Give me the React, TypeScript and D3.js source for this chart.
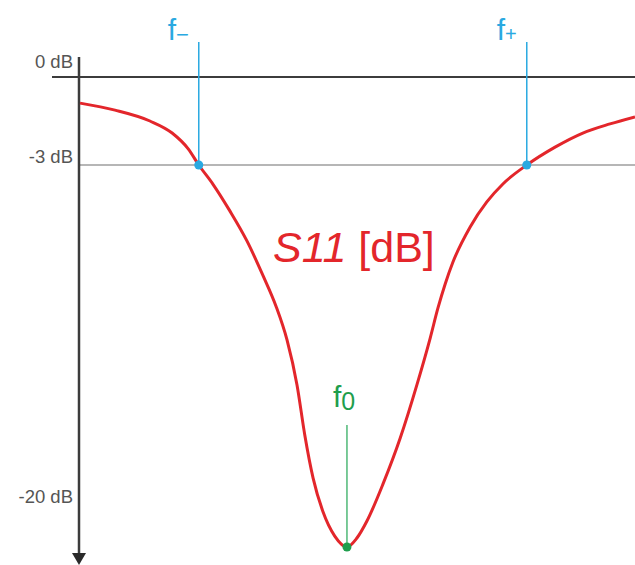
import React from "react";
import * as d3 from "d3";

// Frequency (GHz, schematic) and S11 (dB)
const freqs = [
  2.0, 2.063, 2.126, 2.166, 2.195, 2.214, 2.24, 2.27, 2.301, 2.33, 2.353, 2.373, 2.391,
  2.405, 2.42, 2.438, 2.459, 2.481, 2.499, 2.517, 2.546, 2.577, 2.607, 2.631, 2.645, 2.658,
  2.672, 2.703, 2.733, 2.762, 2.805, 2.856, 2.906, 2.955, 3.0,
];
const s11 = [
  -0.89, -1.13, -1.5, -1.91, -2.45, -3.0, -4.0, -5.35, -6.9, -8.68, -10.22, -11.96, -14.26,
  -16.82, -19.03, -20.77, -22.0, -22.56, -22.1, -21.23, -19.33, -16.98, -14.26, -11.86,
  -10.32, -9.09, -7.97, -6.17, -4.89, -3.97, -3.0, -2.39, -1.91, -1.6, -1.36,
];
const tickValues = [0, -3, -20];
const tickLabels = ["0 dB", "-3 dB", "-20 dB"];
const markerNames = ["f-", "f0", "f+"];
const markerFreqs = [2.214, 2.481, 2.805];
const markerDb = [-3, -22.56, -3];

const W = 635;
const H = 565;

export default function App() {
  const x = d3.scaleLinear().domain([2.0, 3.0]).range([80, 635]);
  const y = d3.scaleLinear().domain([0, -3, -20]).range([77, 165, 497]);
  const axisX = 79;

  const data = freqs.map((f, i) => ({ f, v: s11[i] }));
  const line = d3
    .line<{ f: number; v: number }>()
    .x((d) => x(d.f))
    .y((d) => y(d.v))
    .curve(d3.curveMonotoneX);

  const blue = "#29a9e1";
  const green = "#1f9e4d";
  const red = "#e3262b";
  const font = "'Liberation Sans', Arial, sans-serif";

  const labelDy = [-9, -2, 6];

  return (
    <svg
      width={W}
      height={H}
      style={{ position: "absolute", left: 0, top: 0, background: "#fff" }}
      fontFamily={font}
    >
      {/* 0 dB line */}
      <line x1={52} x2={W} y1={y(0)} y2={y(0)} stroke="#3c3c3c" strokeWidth={2} />
      {/* -3 dB line */}
      <line x1={axisX} x2={W} y1={y(-3)} y2={y(-3)} stroke="#6e6e6e" strokeWidth={1.2} />
      {/* vertical axis */}
      <line x1={axisX} x2={axisX} y1={57} y2={556} stroke="#3c3c3c" strokeWidth={2.5} />
      <polygon
        points={`${axisX - 7},553 ${axisX + 7},553 ${axisX},565`}
        fill="#2a2a2a"
      />
      {tickValues.map((t, i) => (
        <text
          key={t}
          x={73}
          y={y(t) + labelDy[i]}
          textAnchor="end"
          fontSize={18.5}
          fill="#555"
        >
          {tickLabels[i]}
        </text>
      ))}

      {/* S11 curve */}
      <path d={line(data) || ""} fill="none" stroke={red} strokeWidth={3} />

      {/* f- marker */}
      <line
        x1={x(markerFreqs[0])}
        x2={x(markerFreqs[0])}
        y1={42}
        y2={y(markerDb[0])}
        stroke={blue}
        strokeWidth={1.5}
      />
      <circle cx={x(markerFreqs[0])} cy={y(markerDb[0])} r={4.5} fill={blue} />
      <text x={x(markerFreqs[0]) - 31} y={40} fill={blue} fontSize={30}>
        {markerNames[0][0]}
        <tspan fontSize={22} dy={2}>
          {"\u2212"}
        </tspan>
      </text>

      {/* f+ marker */}
      <line
        x1={x(markerFreqs[2])}
        x2={x(markerFreqs[2])}
        y1={42}
        y2={y(markerDb[2])}
        stroke={blue}
        strokeWidth={1.5}
      />
      <circle cx={x(markerFreqs[2])} cy={y(markerDb[2])} r={4.5} fill={blue} />
      <text x={x(markerFreqs[2]) - 30} y={40} fill={blue} fontSize={30}>
        {markerNames[2][0]}
        <tspan fontSize={20} dy={1}>
          +
        </tspan>
      </text>

      {/* f0 marker */}
      <line
        x1={x(markerFreqs[1])}
        x2={x(markerFreqs[1])}
        y1={425}
        y2={y(markerDb[1])}
        stroke="#4fb877"
        strokeWidth={1.5}
      />
      <circle cx={x(markerFreqs[1])} cy={y(markerDb[1])} r={4.5} fill={green} />
      <text x={x(markerFreqs[1]) - 14} y={407} fill={green} fontSize={30}>
        {markerNames[1][0]}
        <tspan fontSize={25} dy={3}>
          0
        </tspan>
      </text>

      {/* S11 label */}
      <text x={273} y={262} fill={red} fontSize={43}>
        <tspan fontStyle="italic">S11</tspan>
        <tspan> [dB]</tspan>
      </text>
    </svg>
  );
}
